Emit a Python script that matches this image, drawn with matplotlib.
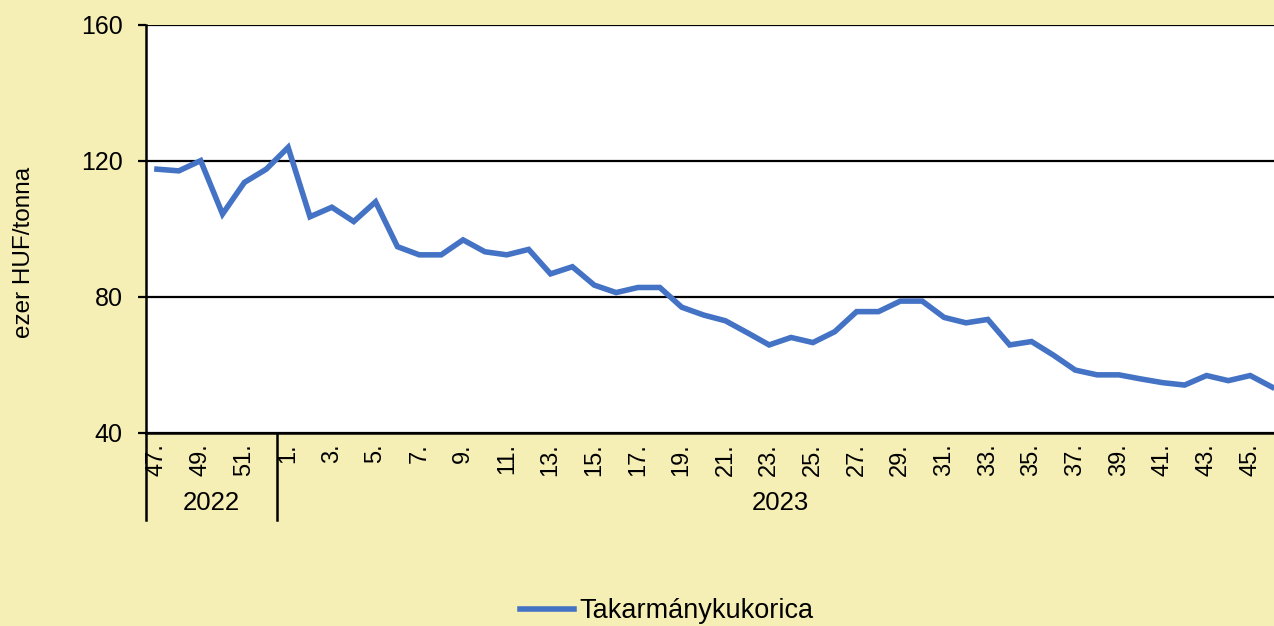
import matplotlib
matplotlib.use("Agg")
import matplotlib.pyplot as plt
import matplotlib.transforms as mtransforms

# ---- data ----
weeks_2022 = [47, 48, 49, 50, 51, 52]
weeks_2023 = list(range(1, 47))
week_labels = [f"{w}." for w in weeks_2022 + weeks_2023]
years = ["2022", "2023"]
series_name = "Takarmánykukorica"
values = [117.6, 117.1, 120.1, 104.4, 113.7, 117.6,
          124.0, 103.6, 106.4, 102.2, 108.0, 94.8, 92.4, 92.4, 96.8, 93.3,
          92.4, 94.0, 86.8, 88.9, 83.5, 81.3, 82.8, 82.8, 77.0, 74.7,
          73.0, 69.5, 65.9, 68.1, 66.6, 69.8, 75.7, 75.7, 78.8, 78.8,
          74.0, 72.4, 73.4, 65.9, 66.9, 62.9, 58.5, 57.1, 57.1, 55.9,
          54.8, 54.1, 56.9, 55.4, 56.9, 53.5]
y_ticks = [40, 80, 120, 160]
y_label = "ezer HUF/tonna"

BG = "#F5EFB5"
LINE = "#4472C4"
FONT = "Liberation Sans"
plt.rcParams["font.family"] = [FONT, "DejaVu Sans"]

W, H = 1274, 626
fig = plt.figure(figsize=(W / 100, H / 100), dpi=100, facecolor=BG)
left, right, top, bottom = 146, 1283, 25, 433
ax = fig.add_axes([left / W, 1 - bottom / H, (right - left) / W, (bottom - top) / H])
ax.set_facecolor("white")

n = len(values)
x = list(range(n))
ax.plot(x, values, color=LINE, lw=4.0, solid_joinstyle="miter", zorder=3, label=series_name)

ax.set_xlim(-0.5, n - 0.5)
ax.set_ylim(y_ticks[0], y_ticks[-1])
ax.set_yticks(y_ticks)
ax.yaxis.grid(True, color="black", lw=1.6)
ax.set_axisbelow(True)
for s in ["top", "right"]:
    ax.spines[s].set_visible(False)
for s in ["left", "bottom"]:
    ax.spines[s].set_linewidth(1.8)
    ax.spines[s].set_color("black")
ax.tick_params(axis="y", length=6, width=1.6, labelsize=18, pad=11, colors="black")

xt = list(range(0, n, 2))
ax.set_xticks(xt)
ax.set_xticklabels([week_labels[i] for i in xt], rotation=90, fontsize=17, va="top")
ax.tick_params(axis="x", length=0, pad=7.5)

# year separators and labels
trans = mtransforms.blended_transform_factory(ax.transData, ax.transAxes)
sep_depth = -(520 - bottom) / (bottom - top)
n22 = len(weeks_2022)
for xv in [-0.5, n22 - 0.5]:
    ax.plot([xv, xv], [0, sep_depth], color="black", lw=1.8, transform=trans, clip_on=False)
year_y = -(503 - bottom) / (bottom - top)
ax.text((-0.5 + n22 - 0.5) / 2, year_y, years[0], transform=trans, ha="center", va="center", fontsize=18.5)
ax.text((n22 - 0.5 + n - 0.5) / 2, year_y, years[1], transform=trans, ha="center", va="center", fontsize=18.5)

fig.text(24 / W, 1 - 252 / H, y_label, rotation=90, ha="center", va="center", fontsize=17.5)

fig.legend(loc="center", bbox_to_anchor=(667 / W, 1 - 611 / H), frameon=False,
           fontsize=19.5, handlelength=2.0, handletextpad=0.2)

fig.savefig("out.png", dpi=100, facecolor=BG)
